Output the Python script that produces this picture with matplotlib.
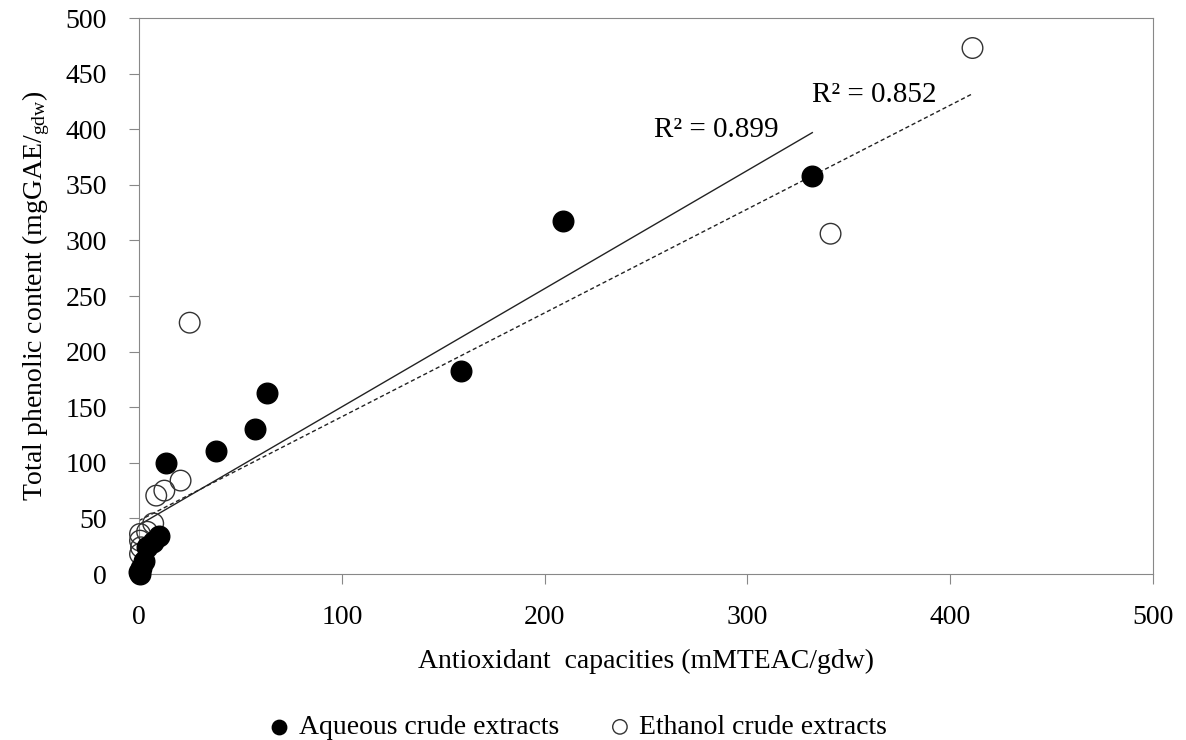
import matplotlib.pyplot as plt
import numpy as np

plt.rcParams['font.family'] = ['Liberation Serif', 'DejaVu Serif']
plt.rcParams['mathtext.fontset'] = 'custom'
plt.rcParams['mathtext.rm'] = 'Liberation Serif'
plt.rcParams['mathtext.it'] = 'Liberation Serif:italic'

# aqueous crude extracts (filled)
aq_x = [332, 209, 159, 63, 57, 38, 13.5, 10, 7, 4, 2.5, 1, 0.5, 0]
aq_y = [358, 317, 183, 163, 130, 111, 100, 34, 29, 24, 12, 5, 0, 2]
# ethanol crude extracts (open)
et_x = [411, 341, 25, 20.5, 12.5, 8.5, 7, 4, 0.5, 0.5, 1, 0.5]
et_y = [473, 306, 226, 84, 75, 70.5, 45.5, 38, 36, 30, 24, 18]

# trend lines: slope, intercept
aq_fit = [1.063, 44]
et_fit = [0.934, 48]
aq_r2 = "R² = 0.899"
et_r2 = "R² = 0.852"

fig = plt.figure(figsize=(11.86, 7.4), dpi=100)
ax = fig.add_axes([139/1186, 1-574/740, (1153-139)/1186, (574-18)/740])

ax.scatter(et_x, et_y, s=220, facecolors='none', edgecolors='#333333', linewidths=1, clip_on=False, zorder=3,
           label='Ethanol crude extracts')
ax.scatter(aq_x, aq_y, s=220, c='black', edgecolors='black', linewidths=1, clip_on=False, zorder=4,
           label='Aqueous crude extracts')

xa = np.array([0, max(aq_x)])
ax.plot(xa, aq_fit[0]*xa + aq_fit[1], color='#222222', lw=1, zorder=2)
xe = np.array([0, max(et_x)])
ax.plot(xe, et_fit[0]*xe + et_fit[1], color='#222222', lw=1, ls=(0, (3, 2)), zorder=2)

ax.text(254, 399, aq_r2, fontsize=21, va='center', ha='left')
ax.text(332, 431, et_r2, fontsize=21, va='center', ha='left')

ax.set_xlim(0, 500)
ax.set_ylim(0, 500)
ax.set_xticks(range(0, 501, 100))
ax.set_yticks(range(0, 501, 50))
for s in ax.spines.values():
    s.set_color('#888888')
ax.tick_params(axis='both', colors='#888888', labelcolor='black', labelsize=20, length=7)
ax.tick_params(axis='x', pad=15)
ax.tick_params(axis='y', pad=16)

ax.set_xlabel("Antioxidant  capacities (mMTEAC/gdw)", fontsize=20, labelpad=14)
ax.set_ylabel("Total phenolic content (mgGAE/$_{\\mathrm{gdw}}$)", fontsize=20, labelpad=10)

h, l = ax.get_legend_handles_labels()
fig.legend(h[::-1], l[::-1], loc='lower center', bbox_to_anchor=(0.48, -0.034), ncol=2, frameon=False, fontsize=20,
           markerscale=0.7, handletextpad=-0.3, columnspacing=1.2)

fig.savefig('out.png', dpi=100)
